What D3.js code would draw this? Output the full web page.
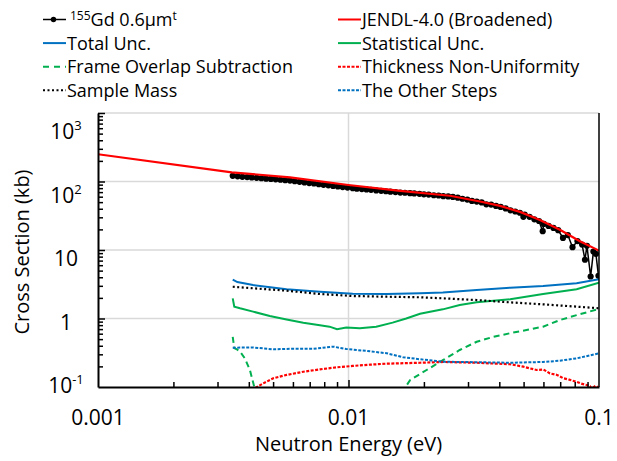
<!DOCTYPE html>
<html>
<head>
<meta charset="utf-8">
<script src="https://cdn.jsdelivr.net/npm/d3@7"></script>
<style>
  body { margin: 0; background: #fff; }
  svg { display: block; font-family: "Open Sans", sans-serif; }
</style>
</head>
<body>
<svg id="chart" width="617" height="461"></svg>
<script>
// [energy (eV), value (kb)]
const jendl = [[0.001,250],[0.00342,136],[0.00584,115],[0.01,89],[0.0161,73],[0.0254,62],[0.0335,51],
  [0.0403,44],[0.0484,36],[0.0581,27.5],[0.0698,19.8],[0.0839,13.4],[0.1,9.8]];

const measured = [[0.00345,121],[0.00361,119],[0.00377,117],[0.00394,116],[0.00411,114.5],[0.0043,113],
  [0.00449,111.5],[0.00469,110],[0.0049,109],[0.00512,107.5],[0.00535,106],[0.00559,104.5],[0.00584,103],
  [0.0061,101],[0.00638,99],[0.00667,97],[0.00697,95],[0.00728,93.5],[0.00761,91.5],[0.00795,89.5],
  [0.00831,88],[0.00868,86],[0.00907,84.5],[0.00948,83],[0.00991,81.5],[0.0104,80],[0.0108,78.5],
  [0.0113,77.5],[0.0118,76.5],[0.0123,75.5],[0.0129,74],[0.0135,73],[0.0141,72],[0.0147,71],[0.0154,70],
  [0.0161,69],[0.0168,68.5],[0.0176,67.5],[0.0183,67],[0.0192,66],[0.02,65],[0.0209,64.5],[0.0219,63],
  [0.0229,62.5],[0.0239,61],[0.025,60.5],[0.0261,59.5],[0.0273,58],[0.0285,56],[0.0298,54.5],[0.0311,52],
  [0.0325,51],[0.034,49.5],[0.0355,46.5],[0.0371,46],[0.0388,44],[0.0405,42.5],[0.0424,40.5],[0.0443,38],
  [0.0463,36.5],[0.0483,35],[0.0499,30.5],[0.0505,33],[0.0528,30.5],[0.0552,28],[0.0576,26.5],[0.0596,18.8],
  [0.0602,24],[0.0629,22.5],[0.0658,21],[0.0687,19.5],[0.0718,15],[0.0751,16.5],[0.0784,11],[0.082,13.5],
  [0.0856,12],[0.0879,7.2],[0.0895,11.5],[0.0926,4.1],[0.095,9.5],[0.0972,8.8],[0.0995,4.2]];

const totalUnc = [[0.00345,3.7],[0.0036,3.4],[0.00416,3.08],[0.00566,2.67],[0.00769,2.46],[0.0104,2.3],
  [0.0142,2.28],[0.0193,2.34],[0.0238,2.4],[0.0325,2.6],[0.0442,2.82],[0.0598,2.98],[0.0814,3.26],[0.1,3.75]];

const statUnc = [[0.00345,1.97],[0.0035,1.49],[0.00369,1.41],[0.00416,1.26],[0.00485,1.09],[0.00566,0.97],
  [0.0066,0.87],[0.00769,0.8],[0.0084,0.76],[0.009,0.7],[0.0098,0.74],[0.0111,0.72],[0.0129,0.76],
  [0.015,0.87],[0.017,1.0],[0.0193,1.17],[0.0238,1.36],[0.0278,1.57],[0.0325,1.72],[0.0442,1.91],
  [0.0598,2.28],[0.0814,2.67],[0.1,3.33]];

const frameOverlapLow = [[0.00345,0.54],[0.0035,0.37],[0.0036,0.35],[0.00369,0.33],[0.00386,0.26],
  [0.00404,0.177],[0.00417,0.113],[0.00427,0.08]];
const frameOverlapHigh = [[0.0165,0.08],[0.0169,0.1],[0.0176,0.126],[0.0205,0.177],[0.0239,0.248],
  [0.0278,0.347],[0.0325,0.458],[0.0379,0.54],[0.0442,0.61],[0.0514,0.68],[0.0598,0.76],[0.0698,0.95],
  [0.0814,1.12],[0.1,1.38]];

const thickness = [[0.0041,0.09],[0.00457,0.113],[0.00501,0.134],[0.00566,0.15],[0.0066,0.167],
  [0.00769,0.181],[0.009,0.194],[0.0104,0.203],[0.0122,0.212],[0.0142,0.219],[0.0193,0.226],[0.0239,0.232],
  [0.0325,0.226],[0.0442,0.215],[0.0499,0.198],[0.0563,0.177],[0.06,0.18],[0.0637,0.158],[0.068,0.15],
  [0.0721,0.134],[0.076,0.128],[0.0814,0.119],[0.085,0.112],[0.0893,0.107],[0.092,0.103],[0.0935,0.095],
  [0.097,0.104],[0.1,0.096]];

const sampleMass = [[0.00345,2.91],[0.00416,2.76],[0.00566,2.55],[0.00769,2.28],[0.0104,2.13],[0.0142,2.08],
  [0.0193,2.04],[0.0238,1.97],[0.0325,1.86],[0.0442,1.72],[0.0598,1.61],[0.0814,1.49],[0.1,1.41]];

const otherSteps = [[0.00345,0.375],[0.00416,0.378],[0.00501,0.355],[0.00602,0.362],[0.00725,0.362],
  [0.00871,0.388],[0.0098,0.359],[0.0118,0.336],[0.0142,0.311],[0.0165,0.272],[0.0193,0.254],[0.0239,0.234],
  [0.0325,0.23],[0.0442,0.226],[0.0598,0.232],[0.0698,0.242],[0.0814,0.262],[0.1,0.31]];

const xTickLabels = [0.001, 0.01, 0.1];
const yTickLabels = [[1000,'10','3'],[100,'10','2'],[10,'10',''],[1,'1',''],[0.1,'10','-1']];

const svg = d3.select('#chart');
const margin = { left: 98, right: 18, top: 113, bottom: 74 };
const W = 617, H = 461;

const x = d3.scaleLog().domain([0.001, 0.1]).range([margin.left, W - margin.right]);
const y = d3.scaleLog().domain([0.1, 1000]).range([H - margin.bottom, margin.top]);

svg.append('clipPath').attr('id', 'plot')
  .append('rect').attr('x', x.range()[0]).attr('y', y.range()[1])
  .attr('width', x.range()[1] - x.range()[0]).attr('height', y.range()[0] - y.range()[1]);

// gridlines
const grid = svg.append('g').attr('stroke', '#d9d9d9').attr('stroke-width', 1.5);
grid.selectAll('.hg').data([1, 10, 100, 1000]).enter().append('line')
  .attr('x1', x.range()[0]).attr('x2', x.range()[1]).attr('y1', d => y(d)).attr('y2', d => y(d));
grid.append('line').attr('x1', x(0.01)).attr('x2', x(0.01)).attr('y1', y.range()[0]).attr('y2', y.range()[1]);

const line = d3.line().x(d => x(d[0])).y(d => y(d[1]));
const plot = svg.append('g').attr('clip-path', 'url(#plot)').attr('fill', 'none');

// measured data
plot.append('path').attr('d', line(measured)).attr('stroke', '#000').attr('stroke-width', 1.5);
plot.selectAll('circle').data(measured).enter().append('circle')
  .attr('cx', d => x(d[0])).attr('cy', d => y(d[1])).attr('r', 3.1).attr('fill', '#000');

const series = [
  { data: jendl, color: '#ff0000', width: 2.2, dash: null },
  { data: totalUnc, color: '#0070c0', width: 2, dash: null },
  { data: statUnc, color: '#00b050', width: 2, dash: null },
  { data: frameOverlapLow, color: '#00b050', width: 2, dash: '6,4' },
  { data: frameOverlapHigh, color: '#00b050', width: 2, dash: '6,4' },
  { data: thickness, color: '#ff0000', width: 2.2, dash: '3,1.5' },
  { data: sampleMass, color: '#000', width: 2.2, dash: '2,2.5' },
  { data: otherSteps, color: '#0070c0', width: 2, dash: '3,1.5' }
];
series.forEach(s => {
  plot.append('path').attr('d', line(s.data)).attr('stroke', s.color)
    .attr('stroke-width', s.width).attr('stroke-dasharray', s.dash);
});

// axes
const xMinor = x.ticks().filter(d => !xTickLabels.includes(d));
const yMinor = y.ticks().filter(d => ![0.1, 1, 10, 100, 1000].includes(+d.toPrecision(3)));

const gx = svg.append('g').attr('transform', `translate(0,${y.range()[0]})`)
  .call(d3.axisBottom(x).tickValues(xMinor).tickSize(-5).tickSizeOuter(0).tickFormat(''));
gx.append('g').call(d3.axisBottom(x).tickValues([0.01]).tickSize(-7).tickFormat(''));
const gy = svg.append('g').attr('transform', `translate(${x.range()[0]},0)`)
  .call(d3.axisLeft(y).tickValues(yMinor).tickSize(-5).tickSizeOuter(0).tickFormat(''));
gy.append('g').call(d3.axisLeft(y).tickValues([1, 10, 100, 1000]).tickSize(-7).tickFormat(''));
svg.selectAll('.domain').attr('stroke', '#000').attr('stroke-width', 2);
svg.selectAll('.tick line').attr('stroke', '#000').attr('stroke-width', 1.5);
gx.selectAll('g > g > .domain').remove();
gy.selectAll('g > g > .domain').remove();

svg.append('line').attr('x1', x.range()[1]).attr('x2', x.range()[1])
  .attr('y1', y.range()[0]).attr('y2', y.range()[1]).attr('stroke', '#000').attr('stroke-width', 1.5);

// tick labels
svg.append('g').selectAll('text').data(xTickLabels).enter().append('text')
  .attr('x', d => x(d)).attr('y', y.range()[0] + 38).attr('text-anchor', 'middle')
  .attr('font-size', 21).attr('fill', '#000').text(d => d);

const yl = svg.append('g').selectAll('text').data(yTickLabels).enter().append('text')
  .attr('x', 66)
  .attr('y', d => y(d[0]) + 18.5 - 5 * (3 - Math.log10(d[0])) + 7.5)
  .attr('text-anchor', 'middle').attr('font-size', 21).attr('fill', '#000');
yl.append('tspan').text(d => d[1]);
yl.append('tspan').attr('dy', -9).attr('font-size', 13).text(d => d[2]);

// axis titles
svg.append('text').attr('x', (x.range()[0] + x.range()[1]) / 2).attr('y', 451)
  .attr('text-anchor', 'middle').attr('font-size', 20).text('Neutron Energy (eV)');
svg.append('text').attr('transform', 'translate(29,252) rotate(-90)')
  .attr('text-anchor', 'middle').attr('font-size', 20).text('Cross Section (kb)');

// legend
const legendItems = [
  { label: 'Gd 0.6μm', col: 0, row: 0, color: '#000', dash: null, marker: true },
  { label: 'JENDL-4.0 (Broadened)', col: 1, row: 0, color: '#ff0000', dash: null },
  { label: 'Total Unc.', col: 0, row: 1, color: '#0070c0', dash: null },
  { label: 'Statistical Unc.', col: 1, row: 1, color: '#00b050', dash: null },
  { label: 'Frame Overlap Subtraction', col: 0, row: 2, color: '#00b050', dash: '6,5' },
  { label: 'Thickness Non-Uniformity', col: 1, row: 2, color: '#ff0000', dash: '3,1.5' },
  { label: 'Sample Mass', col: 0, row: 3, color: '#000', dash: '2,2.5' },
  { label: 'The Other Steps', col: 1, row: 3, color: '#0070c0', dash: '3,1.5' }
];
const colX = [43, 338];
const lg = svg.append('g').selectAll('g').data(legendItems).enter().append('g')
  .attr('transform', d => `translate(${colX[d.col]},${19.5 + d.row * 23.6})`);
lg.append('line').attr('x1', 0).attr('x2', 23).attr('stroke', d => d.color)
  .attr('stroke-width', d => d.marker ? 1.5 : 2).attr('stroke-dasharray', d => d.dash);
lg.filter(d => d.marker).append('circle').attr('cx', 10.5).attr('r', 2.7).attr('fill', '#000');
const lt = lg.append('text').attr('x', 24).attr('y', 6.5).attr('font-size', 18).attr('fill', '#000');
lt.filter(d => d.marker).append('tspan').attr('dx', 3).attr('dy', -6).attr('font-size', 12).text('155');
lt.append('tspan').attr('dy', d => d.marker ? 6 : 0).text(d => d.label);
lt.filter(d => d.marker).append('tspan').attr('dy', -6).attr('font-size', 12).text('t');
</script>
</body>
</html>
